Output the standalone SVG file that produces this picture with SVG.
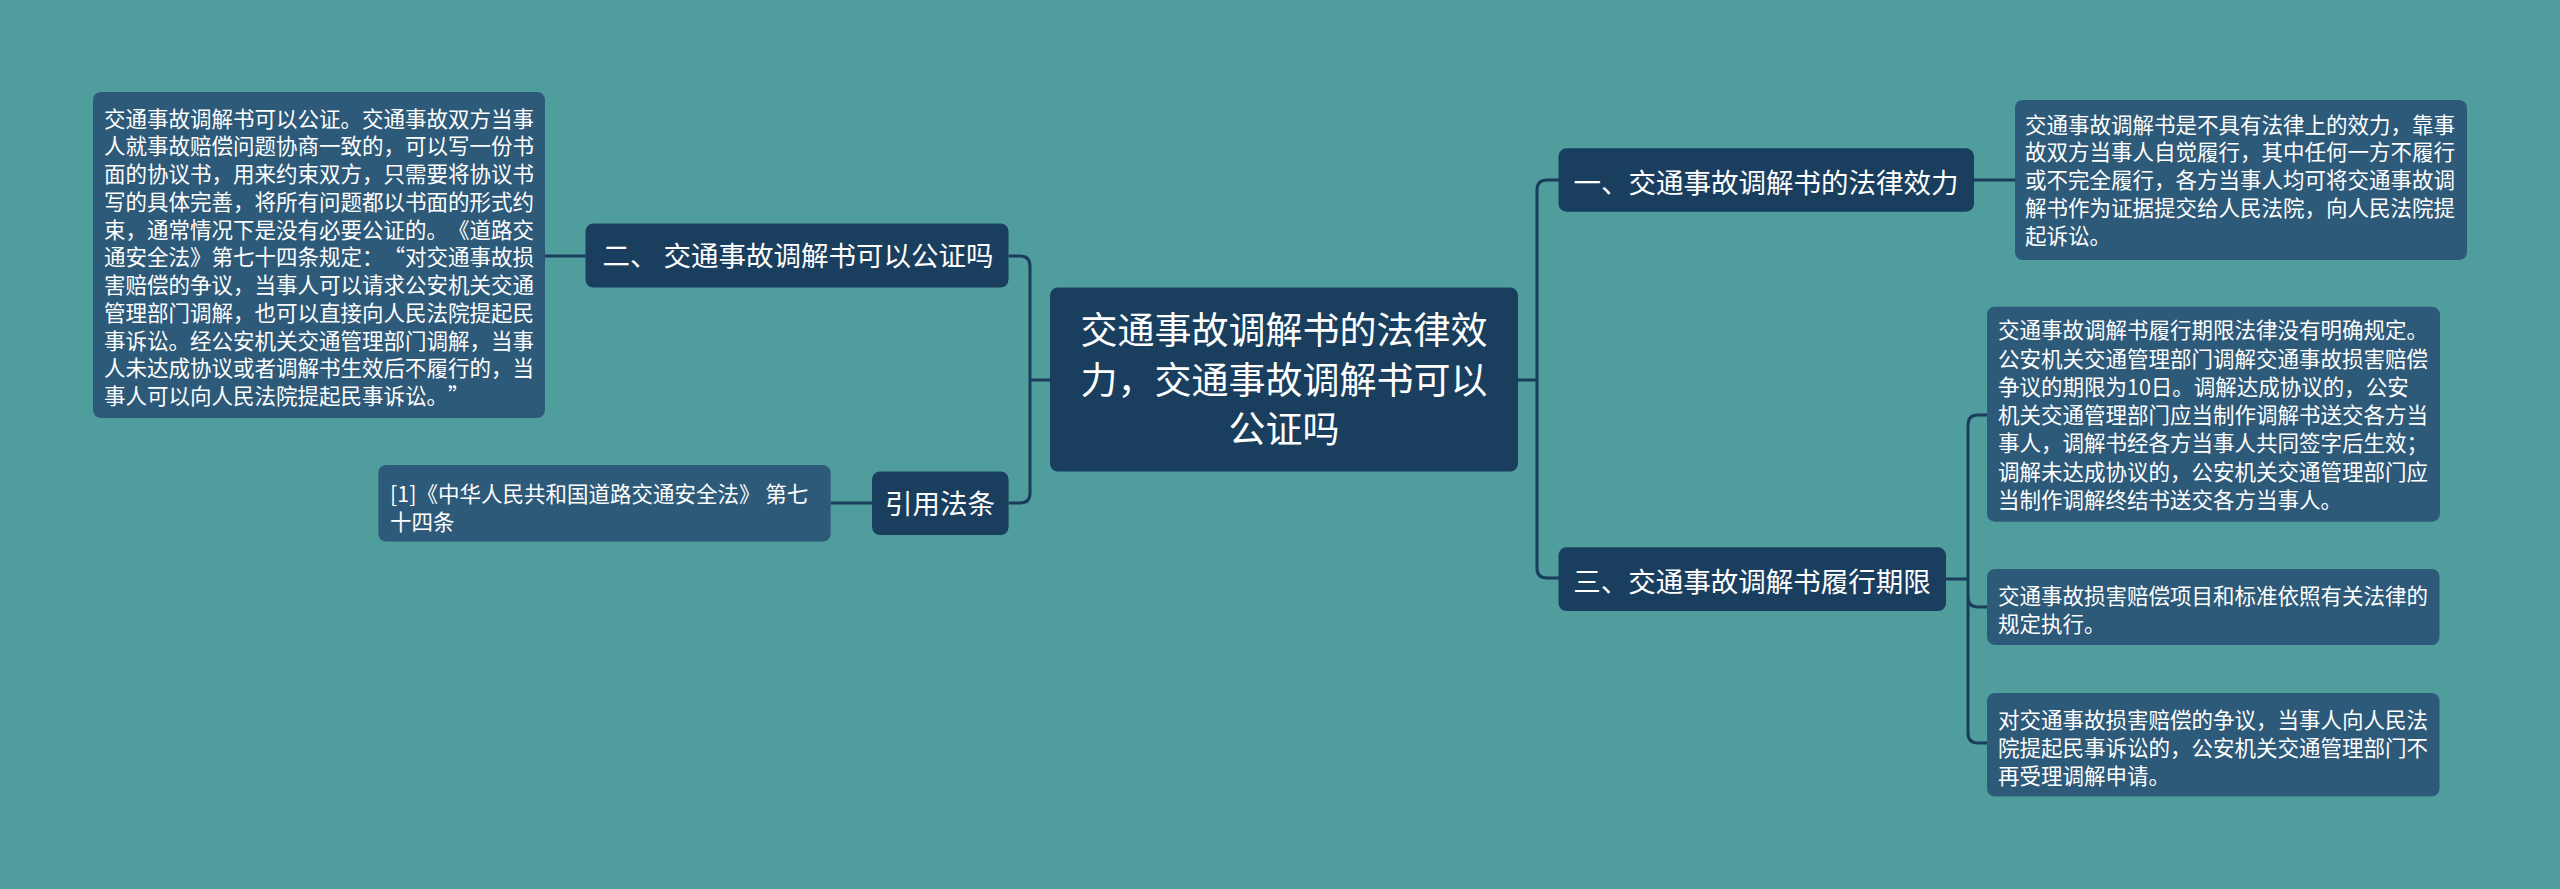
<svg xmlns="http://www.w3.org/2000/svg" width="2560" height="889" viewBox="0 0 2560 889">
<style>
.bg{fill:#4F9D9D}
.node{fill:#1A3E5E}
.leaf{fill:#2E5A7A}
.conn{fill:none;stroke:#1B3D5C;stroke-width:3}
text{font-family:"Noto Sans CJK SC","Noto Sans",sans-serif;fill:#FFFFFF;text-spacing-trim:space-all}
.t1{font-size:27.5px;text-anchor:middle}
.t0{font-size:37px;text-anchor:middle}
.tl{font-size:21.5px}
.fw{font-feature-settings:"fwid" 1}
</style>
<rect class="bg" x="0" y="0" width="2560" height="889"/>
<g id="connectors">
  <path class="conn" d="M545,256 H585.5"/>
  <path class="conn" d="M830.7,503 H872"/>
  <path class="conn" d="M1050,380 H1030 M1030,380 V266 Q1030,256 1020,256 H1008.6 M1030,380 V493 Q1030,503 1020,503 H1008.6"/>
  <path class="conn" d="M1518,380 H1537 M1537,380 V190 Q1537,180 1547,180 H1559 M1537,380 V568 Q1537,578 1547,578 H1559"/>
  <path class="conn" d="M1974,180 H2015"/>
  <path class="conn" d="M1946,579 H1968 M1968,579 V425 Q1968,415 1978,415 H1987 M1968,579 V597 Q1968,607 1978,607 H1987 M1968,579 V733 Q1968,743 1978,743 H1987"/>
</g>
<g id="center">
  <rect class="node" x="1050" y="287.5" width="468" height="184" rx="8"/>
  <text class="t0" x="1284" y="344">交通事故调解书的法律效</text>
  <text class="t0" x="1284" y="393.5">力，交通事故调解书可以</text>
  <text class="t0" x="1284" y="443">公证吗</text>
</g>
<g id="node-2">
  <rect class="node" x="585.5" y="223.5" width="423" height="64" rx="8"/>
  <text class="t1" x="798" y="266">二、 交通事故调解书可以公证吗</text>
</g>
<g id="leaf-2">
  <rect class="leaf" x="93" y="92" width="452" height="326" rx="8"/>
  <text class="tl" x="104" y="126.5">交通事故调解书可以公证。交通事故双方当事</text>
  <text class="tl" x="104" y="154.3">人就事故赔偿问题协商一致的，可以写一份书</text>
  <text class="tl" x="104" y="182">面的协议书，用来约束双方，只需要将协议书</text>
  <text class="tl" x="104" y="209.8">写的具体完善，将所有问题都以书面的形式约</text>
  <text class="tl" x="104" y="237.6">束，通常情况下是没有必要公证的。《道路交</text>
  <text class="tl" x="104" y="265.4">通安全法》第七十四条规定：<tspan class="fw">“</tspan>对交通事故损</text>
  <text class="tl" x="104" y="293.1">害赔偿的争议，当事人可以请求公安机关交通</text>
  <text class="tl" x="104" y="320.9">管理部门调解，也可以直接向人民法院提起民</text>
  <text class="tl" x="104" y="348.7">事诉讼。经公安机关交通管理部门调解，当事</text>
  <text class="tl" x="104" y="376.4">人未达成协议或者调解书生效后不履行的，当</text>
  <text class="tl" x="104" y="404.2">事人可以向人民法院提起民事诉讼。<tspan class="fw">”</tspan></text>
</g>
<g id="node-ref">
  <rect class="node" x="872" y="471.5" width="136.6" height="63.5" rx="8"/>
  <text class="t1" x="940" y="514">引用法条</text>
</g>
<g id="leaf-ref">
  <rect class="leaf" x="378.3" y="465" width="452.4" height="76.5" rx="8"/>
  <text class="tl" x="390" y="501.5">[1]《中华人民共和国道路交通安全法》 第七</text>
  <text class="tl" x="390" y="530">十四条</text>
</g>
<g id="node-1">
  <rect class="node" x="1558.5" y="148.3" width="415.5" height="63.4" rx="8"/>
  <text class="t1" x="1766" y="193">一、交通事故调解书的法律效力</text>
</g>
<g id="leaf-1">
  <rect class="leaf" x="2015" y="100" width="452" height="160" rx="8"/>
  <text class="tl" x="2025" y="132.6">交通事故调解书是不具有法律上的效力，靠事</text>
  <text class="tl" x="2025" y="160.4">故双方当事人自觉履行，其中任何一方不履行</text>
  <text class="tl" x="2025" y="188.2">或不完全履行，各方当事人均可将交通事故调</text>
  <text class="tl" x="2025" y="216">解书作为证据提交给人民法院，向人民法院提</text>
  <text class="tl" x="2025" y="243.8">起诉讼。</text>
</g>
<g id="node-3">
  <rect class="node" x="1558.5" y="547.3" width="387.5" height="63.7" rx="8"/>
  <text class="t1" x="1752" y="591.5">三、交通事故调解书履行期限</text>
</g>
<g id="leaf-3a">
  <rect class="leaf" x="1987" y="306.7" width="453" height="215" rx="8"/>
  <text class="tl" x="1998" y="338.2">交通事故调解书履行期限法律没有明确规定。</text>
  <text class="tl" x="1998" y="366.5">公安机关交通管理部门调解交通事故损害赔偿</text>
  <text class="tl" x="1998" y="394.8">争议的期限为10日。调解达成协议的，公安</text>
  <text class="tl" x="1998" y="423.1">机关交通管理部门应当制作调解书送交各方当</text>
  <text class="tl" x="1998" y="451.4">事人，调解书经各方当事人共同签字后生效；</text>
  <text class="tl" x="1998" y="479.7">调解未达成协议的，公安机关交通管理部门应</text>
  <text class="tl" x="1998" y="508">当制作调解终结书送交各方当事人。</text>
</g>
<g id="leaf-3b">
  <rect class="leaf" x="1987" y="569" width="452.5" height="76" rx="8"/>
  <text class="tl" x="1998" y="603.7">交通事故损害赔偿项目和标准依照有关法律的</text>
  <text class="tl" x="1998" y="631.5">规定执行。</text>
</g>
<g id="leaf-3c">
  <rect class="leaf" x="1987" y="693" width="452.5" height="103.5" rx="8"/>
  <text class="tl" x="1998" y="727.5">对交通事故损害赔偿的争议，当事人向人民法</text>
  <text class="tl" x="1998" y="755.5">院提起民事诉讼的，公安机关交通管理部门不</text>
  <text class="tl" x="1998" y="783.5">再受理调解申请。</text>
</g>
</svg>
